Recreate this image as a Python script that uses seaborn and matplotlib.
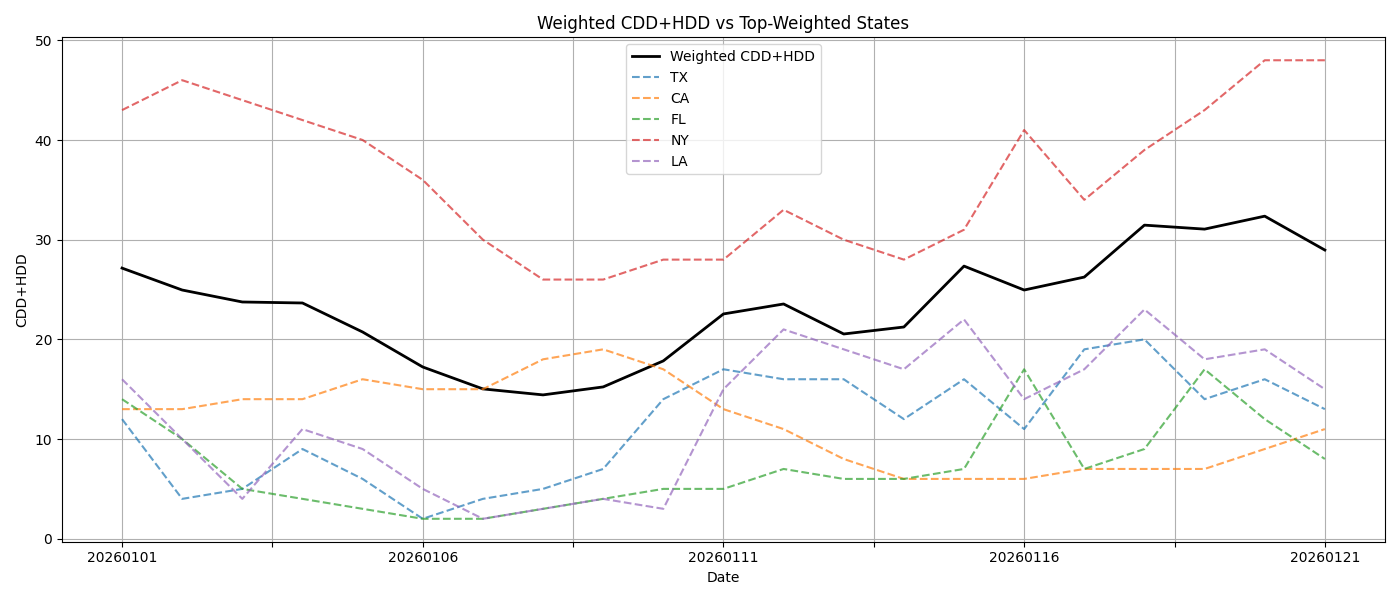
import matplotlib
matplotlib.use("Agg")
import matplotlib.pyplot as plt
import seaborn as sns
import numpy as np
import pandas as pd

dates = [f"202601{d:02d}" for d in range(1, 22)]
weighted = [27.15, 24.95, 23.75, 23.65, 20.74, 17.23, 15.03, 14.43, 15.23, 17.84,
            22.55, 23.55, 20.54, 21.24, 27.35, 24.95, 26.25, 31.46, 31.06, 32.36, 28.96]
tx = [12, 4, 5, 9, 6, 2, 4, 5, 7, 14, 17, 16, 16, 12, 16, 11, 19, 20, 14, 16, 13]
ca = [13, 13, 14, 14, 16, 15, 15, 18, 19, 17, 13, 11, 8, 6, 6, 6, 7, 7, 7, 9, 11]
fl = [14, 10, 5, 4, 3, 2, 2, 3, 4, 5, 5, 7, 6, 6, 7, 17, 7, 9, 17, 12, 8]
ny = [43, 46, 44, 42, 40, 36, 30, 26, 26, 28, 28, 33, 30, 28, 31, 41, 34, 39, 43, 48, 48]
la = [16, 10, 4, 11, 9, 5, 2, 3, 4, 3, 15, 21, 19, 17, 22, 14, 17, 23, 18, 19, 15]

states = {"TX": tx, "CA": ca, "FL": fl, "NY": ny, "LA": la}
colors = ["#1f77b4", "#ff7f0e", "#2ca02c", "#d62728", "#9467bd"]

x = np.arange(len(dates))
fig, ax = plt.subplots(figsize=(14, 6), dpi=100)
sns.lineplot(x=x, y=weighted, ax=ax, color="black", linewidth=2, label="Weighted CDD+HDD")
for (name, vals), c in zip(states.items(), colors):
    sns.lineplot(x=x, y=vals, ax=ax, color=c, linewidth=1.5, linestyle="--", alpha=0.7, label=name)

ticks = np.arange(0, len(dates) - 1 + 0.01, 2.5)
ax.set_xticks(ticks)
ax.set_xticklabels([dates[int(t)] if t % 5 == 0 else "" for t in ticks])
ax.grid(True)
ax.set_xlabel("Date")
ax.set_ylabel("CDD+HDD")
ax.set_title("Weighted CDD+HDD vs Top-Weighted States")
ax.legend(loc="upper center")
fig.tight_layout()
fig.savefig("out.png")
